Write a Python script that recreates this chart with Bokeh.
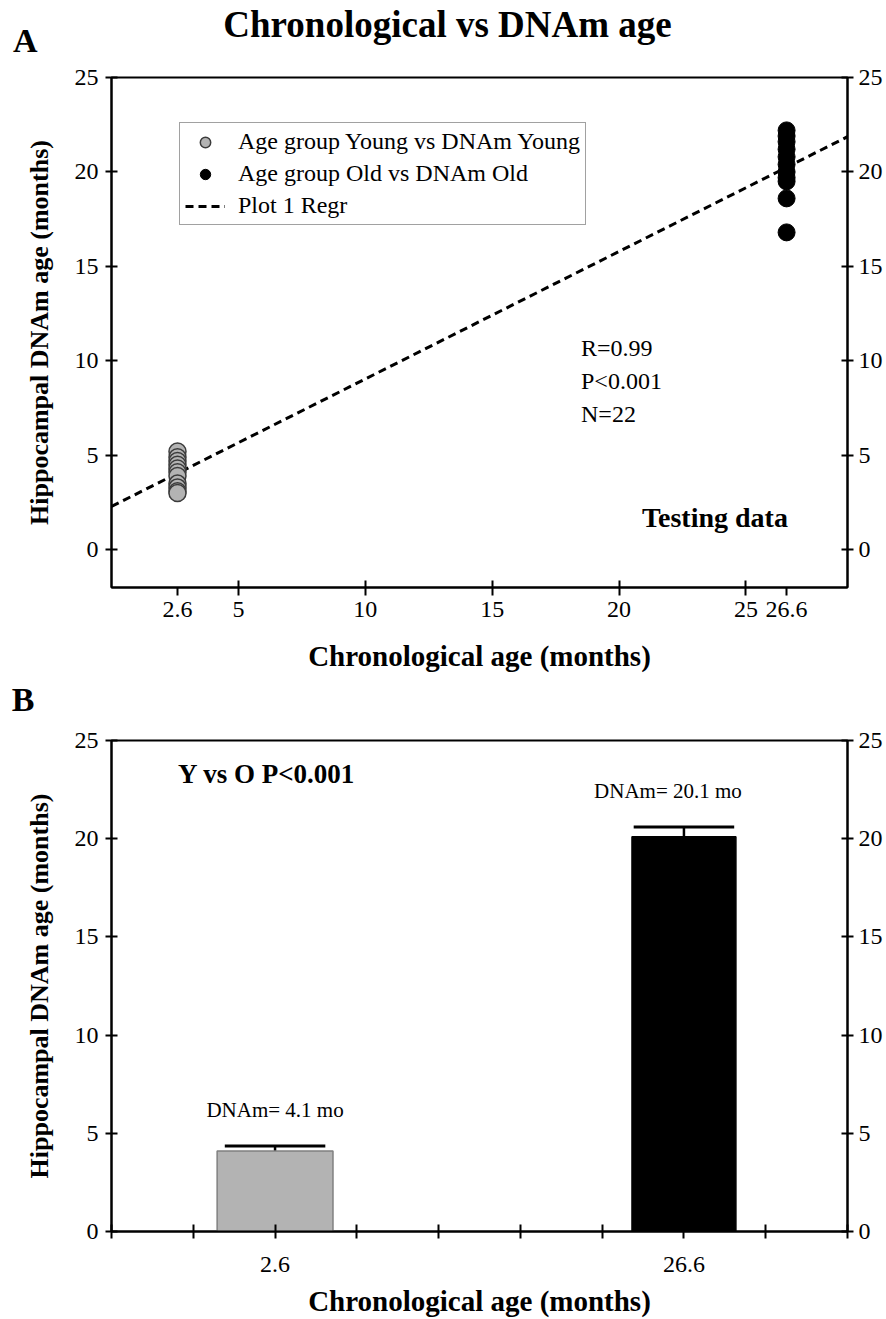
import numpy as np
from bokeh.core.properties import value
from bokeh.embed import file_html
from bokeh.layouts import column
from bokeh.models import (ColumnDataSource, FixedTicker, Label, Legend,
                          LegendItem, LinearAxis, Range1d)
from bokeh.plotting import figure
from bokeh.resources import INLINE

# ---------------------------------------------------------------- data
young_age = 2.6
old_age = 26.6
young_dnam = [5.2, 4.9, 4.7, 4.5, 4.3, 4.1, 3.9, 3.5, 3.3, 3.1, 3.0]
old_dnam = [22.2, 21.9, 21.6, 21.2, 20.8, 20.4, 20.0, 19.7, 19.5, 18.6, 16.8]

group_ages = [2.6, 26.6]
group_means = [4.1, 20.1]
group_sem = [0.25, 0.5]

stats_lines = ["R=0.99", "P<0.001", "N=22"]
x_ticks_a = [2.6, 5, 10, 15, 20, 25, 26.6]
x_inner_ticks_a = [5, 10, 15, 20, 25]
y_ticks = [0, 5, 10, 15, 20, 25]
x_minor_b = [-7, -2.2, 7.4, 12.2, 17, 21.8, 31.4, 36.2]

# ---------------------------------------------------------------- style
FONT = "Liberation Serif"
W = 886
BORDER_L, BORDER_R = 111, 39
H_HEAD_A, H_A, H_HEAD_B, H_B = 62, 618, 40, 599
XA_MIN, XA_MAX = 0, 29
YA_MIN, YA_MAX = -2, 25
XB_MIN, XB_MAX = -7, 36.2
BAR_COLORS = ["#b3b3b3", "black"]
BAR_EDGES = ["#808080", "black"]
BAR_WIDTHS = [6.8, 6.1]
LABEL_SHIFT = [0, -16]
CAP_WIDTH = 5.9


def style_axis(ax, tick_in=6, tick_out=6, standoff=6, label_standoff=10,
               label_size="26px"):
    ax.axis_line_width = 2
    ax.axis_line_color = "black"
    ax.major_tick_line_width = 2
    ax.major_tick_line_color = "black"
    ax.major_tick_in = tick_in
    ax.major_tick_out = tick_out
    ax.minor_tick_line_color = None
    ax.major_label_text_font = FONT
    ax.major_label_text_font_size = "24px"
    ax.major_label_text_color = "black"
    ax.major_label_standoff = standoff
    ax.axis_label_text_font = FONT
    ax.axis_label_text_font_style = "bold"
    ax.axis_label_text_font_size = label_size
    ax.axis_label_text_color = "black"
    ax.axis_label_standoff = label_standoff


def base_figure(height, x_range, y_range, top, bottom):
    p = figure(width=W, height=height, x_range=x_range, y_range=y_range,
               x_axis_type=None, y_axis_type=None,
               output_backend="svg", toolbar_location=None,
               min_border_left=BORDER_L, min_border_right=BORDER_R,
               min_border_top=top, min_border_bottom=bottom)
    p.outline_line_color = "black"
    p.outline_line_width = 2
    p.background_fill_color = "white"
    p.border_fill_color = "white"
    return p


def header(height, letter, letter_y, letter_standoff, title=None, title_y=None):
    """Strip above a panel: panel letter in the left margin, optional title.

    The strip's data coordinates are canvas pixels (x) and pixels up from
    the strip's bottom edge (y).
    """
    h = figure(width=W, height=height, x_range=Range1d(BORDER_L, W - BORDER_R),
               y_range=Range1d(0, height), x_axis_type=None, y_axis_type=None,
               output_backend="svg", toolbar_location=None,
               min_border_left=BORDER_L, min_border_right=BORDER_R,
               min_border_top=0, min_border_bottom=0)
    h.outline_line_color = None
    h.background_fill_color = "white"
    h.border_fill_color = "white"
    tag = LinearAxis(ticker=FixedTicker(ticks=[letter_y]),
                     major_label_overrides={letter_y: letter})
    tag.axis_line_color = None
    tag.major_tick_line_color = None
    tag.minor_tick_line_color = None
    tag.major_tick_in = 0
    tag.major_tick_out = 0
    tag.major_label_standoff = letter_standoff
    tag.major_label_text_font = FONT
    tag.major_label_text_font_style = "bold"
    tag.major_label_text_font_size = "34px"
    tag.major_label_text_color = "black"
    h.add_layout(tag, "left")
    if title is not None:
        h.add_layout(Label(x=W / 2 + 4, y=title_y, text=title, text_font=FONT,
                           text_font_style="bold", text_font_size="37px",
                           text_color="black", text_align="center",
                           text_baseline="middle"))
    return h


def add_y_axes(p):
    left = LinearAxis(ticker=FixedTicker(ticks=y_ticks),
                      axis_label="Hippocampal DNAm age (months)")
    style_axis(left, standoff=7, label_standoff=18)
    p.add_layout(left, "left")
    right = LinearAxis(ticker=FixedTicker(ticks=y_ticks))
    style_axis(right, standoff=5)
    p.add_layout(right, "right")


def add_text(p, **kw):
    p.add_layout(Label(text_font=FONT, text_color="black",
                       text_baseline="middle", text_align="left", **kw))


# ================================================================ header A
head_a = header(H_HEAD_A, "A", letter_y=15, letter_standoff=74,
                title="Chronological vs DNAm age", title_y=38)

# ================================================================ panel A
pa = base_figure(H_A, Range1d(XA_MIN, XA_MAX), Range1d(YA_MIN, YA_MAX), 15, 93)
add_y_axes(pa)

xa = LinearAxis(ticker=FixedTicker(ticks=x_ticks_a, minor_ticks=x_inner_ticks_a),
                axis_label="Chronological age (months)",
                major_label_overrides={t: f"{t:g}" for t in x_ticks_a})
style_axis(xa, tick_in=0, tick_out=8, standoff=6, label_standoff=20,
           label_size="29px")
xa.minor_tick_line_color = "black"
xa.minor_tick_line_width = 2
xa.minor_tick_in = 7
xa.minor_tick_out = 0
pa.add_layout(xa, "below")

all_x = np.array([young_age] * len(young_dnam) + [old_age] * len(old_dnam))
all_y = np.array(young_dnam + old_dnam)
slope, intercept = np.polyfit(all_x, all_y, 1)
line_x = np.array([XA_MIN, XA_MAX])
r_line = pa.line(line_x, slope * line_x + intercept, line_color="black",
                 line_width=3, line_dash="8 5")

r_young = pa.scatter([young_age] * len(young_dnam), young_dnam, size=17,
                     fill_color="#b3b3b3", line_color="#3c3c3c", line_width=1.5)
r_old = pa.scatter([old_age] * len(old_dnam), old_dnam, size=17,
                   fill_color="black", line_color="black", line_width=1)

legend = Legend(items=[
    LegendItem(label="Age group Young vs DNAm Young", renderers=[r_young]),
    LegendItem(label="Age group Old vs DNAm Old", renderers=[r_old]),
    LegendItem(label="Plot 1 Regr", renderers=[r_line]),
], location=(68, 362))
legend.label_text_font = FONT
legend.label_text_font_size = "24px"
legend.label_text_color = "black"
legend.label_height = 26
legend.glyph_height = 26
legend.glyph_width = 40
legend.label_standoff = 13
legend.spacing = 5
legend.padding = 5
legend.margin = 0
legend.border_line_color = "#444444"
legend.border_line_width = 1.5
pa.add_layout(legend)

for i, txt in enumerate(stats_lines):
    add_text(pa, x=18.5, y=10.7 - 1.76 * i, text=txt, text_font_size="24px")

add_text(pa, x=20.9, y=1.7, text="Testing data", text_font_size="28px",
         text_font_style="bold")

# ================================================================ header B
head_b = header(H_HEAD_B, "B", letter_y=22, letter_standoff=77)

# ================================================================ panel B
pb = base_figure(H_B, Range1d(XB_MIN, XB_MAX), Range1d(0, 25), 20, 87)
add_y_axes(pb)

xb = LinearAxis(ticker=FixedTicker(ticks=group_ages, minor_ticks=x_minor_b),
                axis_label="Chronological age (months)",
                major_label_overrides={t: f"{t:g}" for t in group_ages})
style_axis(xb, tick_in=7, tick_out=7, standoff=18, label_standoff=10,
           label_size="29px")
xb.minor_tick_line_color = "black"
xb.minor_tick_line_width = 2
xb.minor_tick_in = 7
xb.minor_tick_out = 7
pb.add_layout(xb, "below")

bars = ColumnDataSource(dict(
    x=group_ages, top=group_means, sem=group_sem,
    err=[m + s for m, s in zip(group_means, group_sem)],
    cap0=[x - CAP_WIDTH / 2 for x in group_ages],
    cap1=[x + CAP_WIDTH / 2 for x in group_ages],
    width=BAR_WIDTHS, fill=BAR_COLORS, edge=BAR_EDGES, shift=LABEL_SHIFT,
    label=[f"DNAm= {m} mo" for m in group_means],
))
pb.segment(x0="x", y0="top", x1="x", y1="err", source=bars,
           line_color="black", line_width=2.5)
pb.segment(x0="cap0", y0="err", x1="cap1", y1="err", source=bars,
           line_color="black", line_width=3)
pb.vbar(x="x", top="top", bottom=0, width="width", source=bars,
        fill_color="fill", line_color="edge", line_width=1.5)
pb.text(x="x", y="err", text="label", source=bars, x_offset="shift",
        y_offset=-36, text_font=value(FONT), text_font_size="21px",
        text_align="center", text_baseline="middle", text_color="black")

add_text(pb, x=-3.1, y=23.3, text="Y vs O P<0.001", text_font_size="27px",
         text_font_style="bold")

layout = column(head_a, pa, head_b, pb, spacing=0)
open("out.html", "w").write(file_html(layout, INLINE))
